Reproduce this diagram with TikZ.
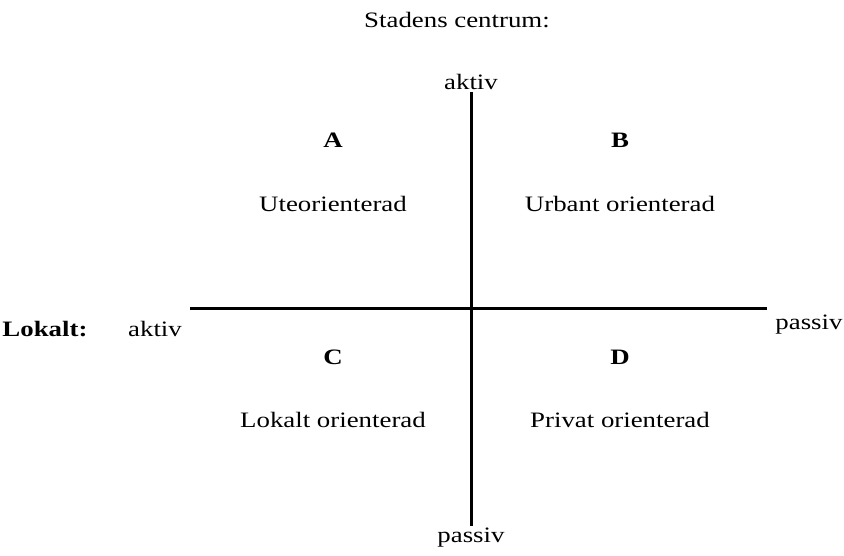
\documentclass[tikz,border=0pt]{standalone}
\usepackage{fontspec}
\setmainfont[FakeStretch=1.22]{Liberation Serif}
\begin{document}
\begin{tikzpicture}[x=1pt,y=-1pt,
  lbl/.style={anchor=base,inner sep=0pt,font=\fontsize{22}{26}\selectfont},
  blbl/.style={lbl,font=\fontsize{22}{26}\selectfont\bfseries},
  axis/.style={line width=3pt}]
\useasboundingbox (0,0) rectangle (844,556);
\node[lbl] (title) at (457,28) {Stadens centrum:};
\node[lbl] (ctop) at (471,90) {aktiv};
\node[lbl] (cbot) at (471,542) {passiv};
\node[blbl] (lok) at (45,336) {Lokalt:};
\node[lbl] (lakt) at (155,336) {aktiv};
\node[lbl] (lpas) at (809,330) {passiv};
\coordinate (vt) at (471,92);
\coordinate (vb) at (471,526);
\coordinate (hl) at (190,309);
\coordinate (hr) at (767,309);
\draw[axis] (vt) -- (vb);
\draw[axis] (hl) -- (hr);
\node[blbl] (A) at (333,148) {A};
\node[blbl] (B) at (620,148) {B};
\node[lbl] (a2) at (333,212) {Uteorienterad};
\node[lbl] (b2) at (620,212) {Urbant orienterad};
\node[blbl] (C) at (333,364) {C};
\node[blbl] (D) at (620,364) {D};
\node[lbl] (c2) at (333,427) {Lokalt orienterad};
\node[lbl] (d2) at (620,427) {Privat orienterad};
\end{tikzpicture}
\end{document}
